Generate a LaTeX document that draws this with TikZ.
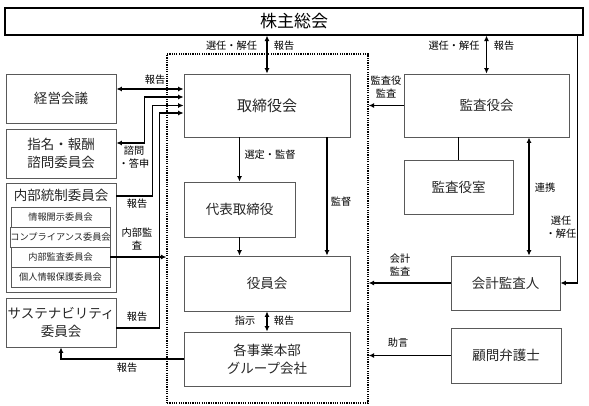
\documentclass[tikz,border=0pt]{standalone}
\usepackage{fontspec}
\setmainfont{Noto Sans CJK JP}
\usepackage{xcolor}
\usepackage{tikz}
\usetikzlibrary{arrows.meta}

\begin{document}
\begin{tikzpicture}[x=1pt, y=-1pt,
        box/.style={draw=black!65, line width=0.8pt, inner sep=0pt, align=center, text=black!85, font=\fontsize{13.5}{18}\selectfont},
        subbox/.style={box, minimum width=99, minimum height=20, font=\fontsize{9.2}{10}\selectfont},
        lbl/.style={inner sep=0pt, align=center, font=\fontsize{10.2}{13.5}\selectfont},
        arr/.style={line width=1.4pt, -{Latex[length=5.5pt, width=5pt]}},
        arrs/.style={line width=1.4pt, {Latex[length=5.5pt, width=5pt]}-{Latex[length=5.5pt, width=5pt]}},
        ln/.style={line width=1.4pt}]
    \useasboundingbox (0,0) rectangle (589,405);
    % dotted frame
    \node[draw, line width=1.2pt, dash pattern=on 1.2pt off 1.1pt, minimum width=201, minimum height=349, inner sep=0pt] (frame) at (267.5,228.5) {};
    % boxes
    \node[box, draw=black, line width=1.1pt, text=black, minimum width=578, minimum height=27, font=\fontsize{17}{20}\selectfont] (soukai) at (294,21.5) {株主総会};
    \node[box, minimum width=166, minimum height=63, font=\fontsize{15}{18}\selectfont] (torishimari) at (267,105.5) {取締役会};
    \node[box, minimum width=110, minimum height=49] (keiei) at (61,98.5) {経営会議};
    \node[box, minimum width=110, minimum height=49] (shimei) at (61,153.5) {指名・報酬\\諮問委員会};
    \node[box, minimum width=110, minimum height=109] (naibu) at (61,237.5) {};
    \node[inner sep=0pt, text=black!85, font=\fontsize{13.5}{16}\selectfont] (naibutitle) at (61,195) {内部統制委員会};
    \node[subbox] (johokaiji) at (60.5,217) {情報開示委員会};
    \node[subbox] (compliance) at (60.5,237) {コンプライアンス委員会};
    \node[subbox] (naibukansa) at (60.5,257) {内部監査委員会};
    \node[subbox] (kojinjoho) at (60.5,277) {個人情報保護委員会};
    \node[box, minimum width=110, minimum height=49] (sustain) at (61,322.5) {サステナビリティ\\委員会};
    \node[box, minimum width=111, minimum height=55] (daihyo) at (239.5,209.5) {代表取締役};
    \node[box, minimum width=166, minimum height=55] (yakuin) at (267,283.5) {役員会};
    \node[box, minimum width=166, minimum height=54] (jigyo) at (267,359) {各事業本部\\グループ会社};
    \node[box, minimum width=165, minimum height=63] (kansayakukai) at (486.5,105.5) {監査役会};
    \node[box, minimum width=109, minimum height=54] (kansashitsu) at (458.5,187) {監査役室};
    \node[box, minimum width=109, minimum height=54] (kaikei) at (505.5,283) {会計監査人};
    \node[box, minimum width=110, minimum height=55] (komon) at (506,355.5) {顧問弁護士};
    % labels
    \node[lbl] (l1) at (231.5,46) {選任・解任};
    \node[lbl] (l2) at (284,46) {報告};
    \node[lbl] (l3) at (454,46) {選任・解任};
    \node[lbl] (l4) at (504,46) {報告};
    \node[lbl] (l5) at (386,87) {監査役\\監査};
    \node[lbl] (l6) at (155,80) {報告};
    \node[lbl] (l7) at (134,157) {諮問\\・答申};
    \node[lbl] (l8) at (137,204) {報告};
    \node[lbl] (l9) at (137,239) {内部監\\査};
    \node[lbl] (l10) at (137,317) {報告};
    \node[lbl] (l11) at (127,368) {報告};
    \node[lbl] (l12) at (270,155) {選定・監督};
    \node[lbl] (l13) at (341,202) {監督};
    \node[lbl] (l14) at (245,321) {指示};
    \node[lbl] (l15) at (284,321) {報告};
    \node[lbl] (l16) at (545,188) {連携};
    \node[lbl] (l17) at (561,227) {選任\\・解任};
    \node[lbl] (l18) at (400,265) {会計\\監査};
    \node[lbl] (l19) at (398,343) {助言};
    % connectors
    \draw[arrs] (soukai.south -| torishimari) -- (torishimari.north);
    \draw[arrs] (soukai.south -| kansayakukai) -- (kansayakukai.north);
    \draw[arr] ([xshift=-6pt]soukai.south east) |- (kaikei.east);
    \draw[arr] (kansayakukai.west) -- (frame.east |- kansayakukai.west);
    \draw[ln] (kansashitsu.north) -- (kansashitsu.north |- kansayakukai.south);
    \draw[arrs] ([xshift=23.5pt]kaikei.north) -- ([xshift=23.5pt]kaikei.north |- kansayakukai.south);
    \draw[arr] (kaikei.west) -- (frame.east |- kaikei.west);
    \draw[arr] (komon.west) -- (frame.east |- komon.west);
    \draw[arr] (daihyo.north |- torishimari.south) -- (daihyo.north);
    \draw[arr] ([xshift=60pt]yakuin.north |- torishimari.south) -- ([xshift=60pt]yakuin.north);
    \draw[arr] (daihyo.south) -- (daihyo.south |- yakuin.north);
    \draw[arrs] (yakuin.south) -- (jigyo.north);
    \draw[arrs] ([yshift=9.5pt]keiei.east) -- ([yshift=9.5pt]keiei.east -| torishimari.west);
    \draw[arrs] ([yshift=10.5pt]shimei.east) -- ++(28,0) |- ([yshift=8.5pt]torishimari.west);
    \draw[arr] ([yshift=41.5pt]naibu.east) -- ++(36,0) |- (torishimari.west);
    \draw[arr] ([yshift=-5.5pt]sustain.east) -- ++(43,0) |- ([yshift=-7.5pt]torishimari.west);
    \draw[arr] (naibukansa.east) -- (frame.west |- naibukansa.east);
    \draw[arr] (jigyo.west) -| (sustain.south);
\end{tikzpicture}
\end{document}
